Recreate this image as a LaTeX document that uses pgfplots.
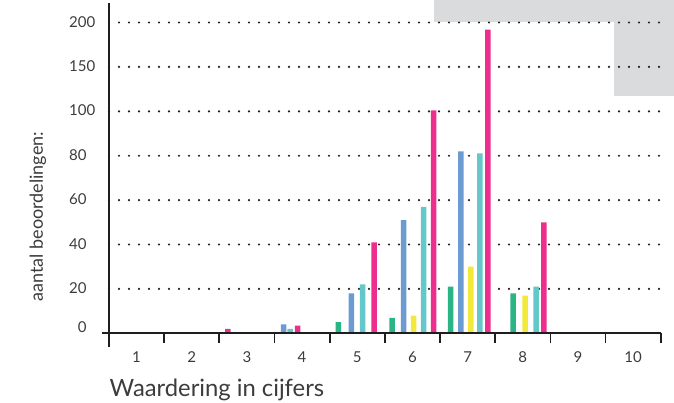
\documentclass[border=0pt]{standalone}
\usepackage{pgfplots}
\pgfplotsset{compat=1.18}
\usepackage{fontspec}
\setmainfont{Lato}

\definecolor{cgreen}{HTML}{2BB585}
\definecolor{cblue}{HTML}{6B9BD1}
\definecolor{cyellow}{HTML}{F2E93A}
\definecolor{cteal}{HTML}{64C7C9}
\definecolor{cmagenta}{HTML}{EC2F8E}
\definecolor{cgray}{HTML}{DADBDD}
\definecolor{ctext}{HTML}{3C3C3C}
\definecolor{caxis}{HTML}{1E1E1E}

\begin{document}
\begin{tikzpicture}[font=\fontsize{15}{18}\selectfont]
\useasboundingbox (-109pt,-69.7pt) rectangle (565pt,333.3pt);
% grey boxes in the upper right corner
\fill[cgray] (325.3pt,311.3pt) rectangle (565pt,333.3pt);
\fill[cgray] (504.7pt,237.3pt) rectangle (565pt,333.3pt);

\begin{axis}[
    at={(0pt,0pt)}, anchor=south west,
    scale only axis,
    width=551.7pt, height=330.3pt,
    xmin=0.5, xmax=10.5,
    ymin=0, ymax=222,
    % 0-100 linear, above 100 compressed (50 per grid step)
    y coord trafo/.code={\pgfmathparse{ifthenelse(#1>100,100+(#1-100)/2.5,#1)}},
    axis line style={draw=none},
    tick style={draw=none},
    major tick length=0pt,
    xtick={1,...,10},
    ytick={0,20,40,60,80,100,150,200},
    yticklabels={\raisebox{5pt}{\hphantom{0}0},20,40,60,80,100,150,200},
    xticklabel style={anchor=center, yshift=-23.4pt, text=ctext},
    yticklabel style={anchor=base west, inner sep=0pt, xshift=-40pt, yshift=-4.5pt, text=ctext},
    /pgf/number format/assume math mode=true,
    clip=false,
]
% dotted grid
\pgfplotsinvokeforeach{20,40,60,80,100,150,200}{
    \draw[caxis, line width=2.4pt, line cap=round, dash pattern=on 0pt off 10pt]
        (axis cs:0.5,#1) -- (axis cs:10.5,#1);
}

\addplot[ybar, bar shift=0pt, bar width=5.5pt, fill=cgreen, draw=none]
    coordinates {(4.656,5) (5.631,7) (6.692,21) (7.827,18)};
\addplot[ybar, bar shift=0pt, bar width=5.5pt, fill=cblue, draw=none]
    coordinates {(3.663,4) (4.892,18) (5.841,51) (6.876,82)};
\addplot[ybar, bar shift=0pt, bar width=5.5pt, fill=cyellow, draw=none]
    coordinates {(6.023,8) (7.061,30) (8.044,17)};
\addplot[ybar, bar shift=0pt, bar width=5.5pt, fill=cteal, draw=none]
    coordinates {(3.785,2) (5.097,22) (6.204,57) (7.221,81) (8.244,21)};
\addplot[ybar, bar shift=0pt, bar width=5.5pt, fill=cmagenta, draw=none]
    coordinates {(2.654,2) (3.917,3.5) (5.304,41) (6.386,101) (7.366,192) (8.382,50)};

% axis lines and ticks
\draw[caxis, line width=2pt] (axis cs:0.5,0) ++(-7pt,0pt) -- (axis cs:10.5,0);
\draw[caxis, line width=2pt] (axis cs:0.5,0) ++(0pt,-13.4pt) -- (axis cs:0.5,222);
\pgfplotsinvokeforeach{1.5,2.5,3.5,4.5,5.5,6.5,7.5,8.5,9.5,10.5}{
    \draw[caxis, line width=1.7pt] (axis cs:#1,0) -- ++(0pt,-9.5pt);
}
\end{axis}

\node[rotate=90, anchor=base, text=ctext, font=\fontsize{18}{22}\selectfont]
    at (-66pt,116.6pt) {aantal beoordelingen:};
\node[anchor=base west, inner sep=0pt, text=ctext, font=\fontsize{23.8}{28}\selectfont]
    at (0.5pt,-63.4pt) {Waardering in cijfers};
\end{tikzpicture}
\end{document}
